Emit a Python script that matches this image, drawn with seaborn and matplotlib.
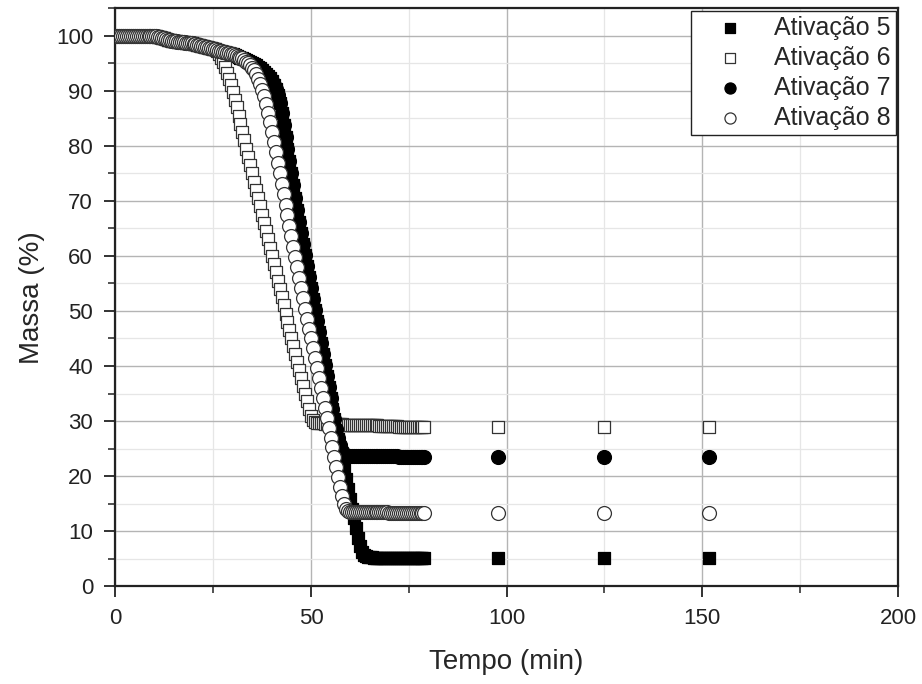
import numpy as np
import pandas as pd
import matplotlib.pyplot as plt
import seaborn as sns
from matplotlib.ticker import MultipleLocator

# =============================================================================
# DADOS (lidos do gráfico de TGA)
# =============================================================================
# curva densa: um ponto a cada 0,5 min, de 0 a 79 min
tempo = np.arange(0, 79.5, 0.5)

# trecho inicial comum às quatro ativações (0 a 24,5 min)
inicio = [100.0, 100.0, 100.0, 100.0, 100.0, 100.0, 100.0, 100.0, 100.0, 100.0,
          100.0, 100.0, 100.0, 100.0, 100.0, 100.0, 100.0, 100.0, 100.0, 100.0,
          100.0, 99.9, 99.8, 99.7, 99.6, 99.5, 99.4, 99.3, 99.2, 99.1,
          99.0, 99.0, 98.9, 98.9, 98.8, 98.8, 98.7, 98.7, 98.6, 98.6,
          98.5, 98.5, 98.4, 98.3, 98.2, 98.1, 98.0, 97.9, 97.8, 97.7]

massa_5 = inicio + [
    97.6, 97.5, 97.4, 97.3, 97.2, 97.1, 97.0, 96.9, 96.8, 96.7,
    96.6, 96.5, 96.3, 96.2, 96.0, 95.9, 95.7, 95.6, 95.4, 95.2,
    95.0, 94.8, 94.6, 94.4, 94.1, 93.8, 93.5, 93.1, 92.7, 92.3,
    91.8, 91.1, 90.3, 89.2, 87.8, 85.9, 83.8, 81.6, 79.4, 77.2,
    75.0, 72.8, 70.6, 68.4, 66.2, 64.2, 62.2, 60.2, 58.2, 56.2,
    54.2, 52.2, 50.2, 48.2, 46.2, 44.2, 42.2, 40.2, 38.2, 36.2,
    34.2, 32.2, 30.3, 28.5, 26.7, 24.9, 23.1, 21.3, 19.5, 17.7,
    15.9, 14.1, 12.3, 10.5, 8.8, 7.3, 6.2, 5.6, 5.4, 5.3,
    5.3, 5.3, 5.2, 5.2, 5.2, 5.2, 5.2, 5.2, 5.2, 5.2,
    5.2, 5.2, 5.2, 5.2, 5.2, 5.2, 5.2, 5.2, 5.2, 5.2,
    5.2, 5.2, 5.2, 5.2, 5.2, 5.2, 5.2, 5.2, 5.2]

massa_6 = inicio + [
    97.6, 97.5, 97.2, 96.7, 96.0, 95.2, 94.3, 93.3, 92.2, 91.0,
    89.8, 88.4, 87.0, 85.5, 84.0, 82.5, 81.0, 79.5, 78.0, 76.5,
    75.0, 73.5, 72.0, 70.5, 69.0, 67.5, 66.0, 64.5, 63.0, 61.5,
    60.0, 58.5, 57.0, 55.5, 54.0, 52.5, 51.0, 49.5, 48.0, 46.5,
    45.1, 43.6, 42.2, 40.7, 39.3, 37.8, 36.4, 35.0, 33.6, 32.2,
    31.0, 30.2, 29.8, 29.7, 29.6, 29.6, 29.6, 29.5, 29.5, 29.5,
    29.5, 29.5, 29.4, 29.4, 29.4, 29.4, 29.4, 29.3, 29.3, 29.3,
    29.3, 29.3, 29.3, 29.2, 29.2, 29.2, 29.2, 29.2, 29.2, 29.2,
    29.2, 29.2, 29.2, 29.2, 29.2, 29.1, 29.1, 29.1, 29.1, 29.1,
    29.1, 29.1, 29.1, 29.1, 29.1, 29.0, 29.0, 29.0, 29.0, 29.0,
    29.0, 29.0, 29.0, 29.0, 29.0, 28.9, 28.9, 28.9, 28.9]

massa_7 = inicio + [
    97.6, 97.5, 97.4, 97.3, 97.2, 97.1, 97.0, 96.9, 96.8, 96.7,
    96.6, 96.5, 96.3, 96.2, 96.0, 95.9, 95.7, 95.6, 95.4, 95.2,
    95.0, 94.8, 94.6, 94.4, 94.1, 93.8, 93.5, 93.1, 92.7, 92.3,
    91.8, 91.1, 90.3, 89.2, 87.8, 85.9, 83.8, 81.6, 79.4, 77.2,
    75.0, 72.8, 70.6, 68.4, 66.2, 64.2, 62.2, 60.2, 58.2, 56.2,
    54.2, 52.2, 50.2, 48.2, 46.2, 44.2, 42.2, 40.2, 38.2, 36.2,
    34.2, 32.2, 30.3, 28.6, 27.0, 25.6, 24.6, 24.0, 23.7, 23.6,
    23.6, 23.6, 23.6, 23.6, 23.6, 23.6, 23.6, 23.6, 23.6, 23.6,
    23.6, 23.6, 23.6, 23.6, 23.6, 23.6, 23.6, 23.6, 23.6, 23.6,
    23.6, 23.6, 23.6, 23.6, 23.6, 23.5, 23.5, 23.5, 23.5, 23.5,
    23.5, 23.5, 23.5, 23.5, 23.5, 23.5, 23.5, 23.5, 23.5]

massa_8 = inicio + [
    97.6, 97.5, 97.4, 97.3, 97.2, 97.1, 97.0, 96.9, 96.8, 96.7,
    96.6, 96.5, 96.3, 96.2, 96.0, 95.9, 95.6, 95.3, 95.0, 94.6,
    94.2, 93.7, 93.0, 92.2, 91.2, 90.2, 89.0, 87.6, 86.0, 84.3,
    82.5, 80.7, 78.8, 76.9, 75.0, 73.1, 71.2, 69.3, 67.4, 65.5,
    63.6, 61.7, 59.8, 57.9, 56.0, 54.1, 52.3, 50.4, 48.6, 46.8,
    45.0, 43.2, 41.4, 39.6, 37.8, 36.0, 34.2, 32.4, 30.6, 28.8,
    27.0, 25.2, 23.4, 21.6, 19.8, 18.0, 16.4, 15.0, 14.0, 13.6,
    13.5, 13.5, 13.5, 13.5, 13.4, 13.4, 13.4, 13.4, 13.4, 13.4,
    13.4, 13.4, 13.4, 13.4, 13.4, 13.4, 13.4, 13.4, 13.4, 13.4,
    13.3, 13.3, 13.3, 13.3, 13.3, 13.3, 13.3, 13.3, 13.3, 13.3,
    13.3, 13.3, 13.3, 13.3, 13.3, 13.3, 13.3, 13.3, 13.3]

# pontos esparsos depois de 79 min
tempo_esparso = [97.8, 124.8, 151.7]
esparso_5 = [5.2, 5.2, 5.2]
esparso_6 = [28.9, 28.9, 28.9]
esparso_7 = [23.5, 23.5, 23.5]
esparso_8 = [13.3, 13.3, 13.3]

rotulos = ['Ativação 5', 'Ativação 6', 'Ativação 7', 'Ativação 8']


def main():
    sns.set_style("ticks")
    plt.rcParams['font.family'] = ['Liberation Sans', 'DejaVu Sans']

    series = [
        (massa_5, esparso_5, 's', 'black', 'black', 75),
        (massa_6, esparso_6, 's', 'white', '#333333', 75),
        (massa_7, esparso_7, 'o', 'black', 'black', 100),
        (massa_8, esparso_8, 'o', 'white', '#333333', 100),
    ]

    fig, ax = plt.subplots(figsize=(9.22, 6.84), dpi=100)
    fig.subplots_adjust(left=0.125, right=0.974, top=0.988, bottom=0.143)

    for i, (densa, esparsa, marcador, cor, borda, tam) in enumerate(series):
        df = pd.DataFrame({
            'tempo': list(tempo) + tempo_esparso,
            'massa': densa + esparsa,
        })
        sns.scatterplot(data=df, x='tempo', y='massa', ax=ax, marker=marcador,
                        color=cor, edgecolor=borda, linewidth=0.9, s=tam,
                        label=rotulos[i], zorder=3 + i)

    ax.set_xlim(0, 200)
    ax.set_ylim(0, 105)
    ax.xaxis.set_major_locator(MultipleLocator(50))
    ax.xaxis.set_minor_locator(MultipleLocator(25))
    ax.yaxis.set_major_locator(MultipleLocator(10))
    ax.yaxis.set_minor_locator(MultipleLocator(5))

    ax.grid(True, which='major', color='#b4b4b4', linewidth=1.0)
    ax.grid(True, which='minor', color='#e6e6e6', linewidth=0.9)
    ax.set_axisbelow(True)

    for lado in ['top', 'right', 'bottom', 'left']:
        ax.spines[lado].set_visible(True)
        ax.spines[lado].set_color('#222222')
        ax.spines[lado].set_linewidth(1.6)

    ax.tick_params(which='major', direction='out', length=8, width=1.3,
                   labelsize=16, colors='#222222', pad=8)
    ax.tick_params(which='minor', direction='out', length=5, width=1.1,
                   colors='#222222')

    ax.set_xlabel('Tempo (min)', fontsize=20, labelpad=14)
    ax.set_ylabel('Massa (%)', fontsize=20, labelpad=8)

    leg = ax.legend(loc='upper right', fontsize=18, frameon=True, fancybox=False,
                    framealpha=1, edgecolor='#222222', borderaxespad=0.1,
                    labelspacing=0.24, handletextpad=0.4, handlelength=2.7,
                    markerscale=0.8, borderpad=0.2)
    leg.get_frame().set_linewidth(1.0)

    plt.savefig('out.png', dpi=100)


if __name__ == "__main__":
    main()
